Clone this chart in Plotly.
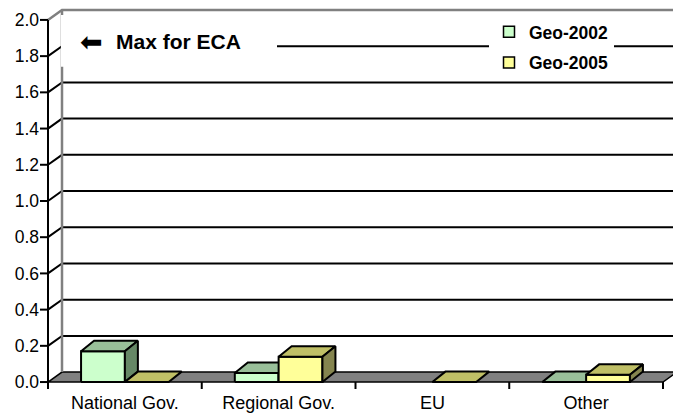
import plotly.graph_objects as go

# ---------------- data ----------------
categories = ["National Gov.", "Regional Gov.", "EU", "Other"]
geo_2002 = [0.17, 0.05, None, 0.0]
geo_2005 = [0.0, 0.14, 0.0, 0.04]
series_names = ["Geo-2002", "Geo-2005"]
y_tick_values = [0.0, 0.2, 0.4, 0.6, 0.8, 1.0, 1.2, 1.4, 1.6, 1.8, 2.0]
y_tick_labels = ["0.0", "0.2", "0.4", "0.6", "0.8", "1.0", "1.2", "1.4", "1.6", "1.8", "2.0"]
annotation_text = "Max for ECA"

# ---------------- layout / style ----------------
W, H = 673, 413
ML, MR, MT, MB = 40, 0, 5, 21
PX_X = 153.75          # pixels per category
PX_Y = 182.0           # pixels per value unit
AXIS_PX = 48           # pixel x of the front value axis
Y0_PX = 384            # pixel y of value 0
FONT = "Liberation Sans, Arial, sans-serif"

n = len(categories)
x_left = -0.5 - (AXIS_PX - ML) / PX_X
x_right = x_left + (W - ML - MR) / PX_X
plot_bottom_px = H - MB
y_bottom = -(plot_bottom_px - Y0_PX) / PX_Y
y_top = y_bottom + (H - MT - MB) / PX_Y

DX, DY = 14 / PX_X, 10 / PX_Y          # floor / wall depth
BDX, BDY = 13 / PX_X, 10.5 / PX_Y      # bar depth
BAR_W = 0.285
TKX = 8 / PX_X
TKY = 7 / PX_Y

y_max = max(y_tick_values)
x_start = -0.5
x_end = n - 0.5

face_colors = {
    "Geo-2002": ("#CCFFCC", "#99BF99", "#668866"),
    "Geo-2005": ("#FFFF99", "#BFBF66", "#85854F"),
}

fig = go.Figure()

def add_poly(xs, ys, fill, line_color="black", lw=2.0):
    fig.add_trace(go.Scatter(x=xs, y=ys, mode="lines", fill="toself",
                             fillcolor=fill, line=dict(color=line_color, width=lw),
                             hoverinfo="skip", showlegend=False))

# floor
add_poly([x_start, x_end, x_end + DX, x_start + DX, x_start],
         [0, 0, DY, DY, 0], "#808080", "black", 1.5)

# gridlines (left-wall diagonal + back wall horizontal)
gx, gy = [], []
for v in y_tick_values[1:-1]:
    gx += [x_start, x_start + DX, x_end + DX, None]
    gy += [v, v + DY, v + DY, None]
fig.add_trace(go.Scatter(x=gx, y=gy, mode="lines", line=dict(color="black", width=2),
                         hoverinfo="skip", showlegend=False))

# wall outline (gray)
wx = [x_start, x_start + DX, x_end + DX, None, x_start + DX, x_start + DX]
wy = [y_max, y_max + DY, y_max + DY, None, DY, y_max + DY]
fig.add_trace(go.Scatter(x=wx, y=wy, mode="lines", line=dict(color="#808080", width=2.5),
                         hoverinfo="skip", showlegend=False))

# front axis line + tick marks
ax, ay = [x_start, x_start, None], [0, y_max, None]
for v in y_tick_values:
    ax += [x_start - TKX, x_start, None]
    ay += [v, v, None]
for k in range(n + 1):
    b = -0.5 + k
    ax += [b, b, None]
    ay += [0, -TKY, None]
fig.add_trace(go.Scatter(x=ax, y=ay, mode="lines", line=dict(color="black", width=2),
                         hoverinfo="skip", showlegend=False))

# 3D bars
for s_idx, (name, vals) in enumerate(zip(series_names, [geo_2002, geo_2005])):
    front, top, side = face_colors[name]
    fx, fy, tx, ty, sx, sy = [], [], [], [], [], []
    for i, v in enumerate(vals):
        if v is None:
            continue
        x0 = i - BAR_W if s_idx == 0 else i
        x1 = x0 + BAR_W
        fx += [x0, x1, x1, x0, x0, None]
        fy += [0, 0, v, v, 0, None]
        tx += [x0, x1, x1 + BDX, x0 + BDX, x0, None]
        ty += [v, v, v + BDY, v + BDY, v, None]
        if v > 0:
            sx += [x1, x1 + BDX, x1 + BDX, x1, x1, None]
            sy += [0, BDY, v + BDY, v, 0, None]
    add_poly(fx, fy, front)
    add_poly(tx, ty, top)
    if sx:
        add_poly(sx, sy, side)

# legend entries
for name in series_names:
    fig.add_trace(go.Scatter(x=[None], y=[None], mode="markers", name=name,
                             legendgroup=name,
                             marker=dict(symbol="square", size=11, color=face_colors[name][0],
                                         line=dict(color="black", width=1.5))))

def px_to_paper_x(px):
    return (px - ML) / (W - ML - MR)

def px_to_paper_y(py):
    return (plot_bottom_px - py) / (H - MT - MB)

fig.update_layout(
    width=W, height=H, autosize=False,
    margin=dict(l=ML, r=MR, t=MT, b=MB, pad=0),
    paper_bgcolor="white", plot_bgcolor="white",
    font=dict(family=FONT, size=17, color="black"),
    showlegend=True,
    legend=dict(x=px_to_paper_x(489), y=px_to_paper_y(14), xanchor="left", yanchor="top",
                bgcolor="white", borderwidth=0, traceorder="grouped", tracegroupgap=5,
                font=dict(family=FONT, size=17.5, color="black", weight="bold")),
    xaxis=dict(range=[x_left, x_right], showgrid=False, zeroline=False, showline=False,
               tickmode="array", tickvals=list(range(n)), ticktext=categories,
               ticks="", tickfont=dict(family=FONT, size=18)),
    yaxis=dict(range=[y_bottom, y_top], showgrid=False, zeroline=False, showline=False,
               tickmode="array", tickvals=y_tick_values, ticktext=y_tick_labels,
               ticks="", tickfont=dict(family=FONT, size=17.5)),
    shapes=[dict(type="rect", xref="paper", yref="paper", layer="above",
                 x0=px_to_paper_x(61), x1=px_to_paper_x(277),
                 y0=px_to_paper_y(67), y1=px_to_paper_y(15),
                 fillcolor="white", line=dict(width=0))],
    annotations=[
        dict(text="⬅", xref="paper", yref="paper", x=px_to_paper_x(91), y=px_to_paper_y(42),
             xanchor="center", yanchor="middle", showarrow=False,
             font=dict(family="DejaVu Sans", size=27, color="black")),
        dict(text=annotation_text, xref="paper", yref="paper", x=px_to_paper_x(114),
             y=px_to_paper_y(42), xanchor="left", yanchor="middle", showarrow=False,
             font=dict(family=FONT, size=21, color="black", weight="bold")),
    ],
)

fig.write_html("out.html", config={"displayModeBar": False},
               post_script="document.body.style.margin='0px';")
